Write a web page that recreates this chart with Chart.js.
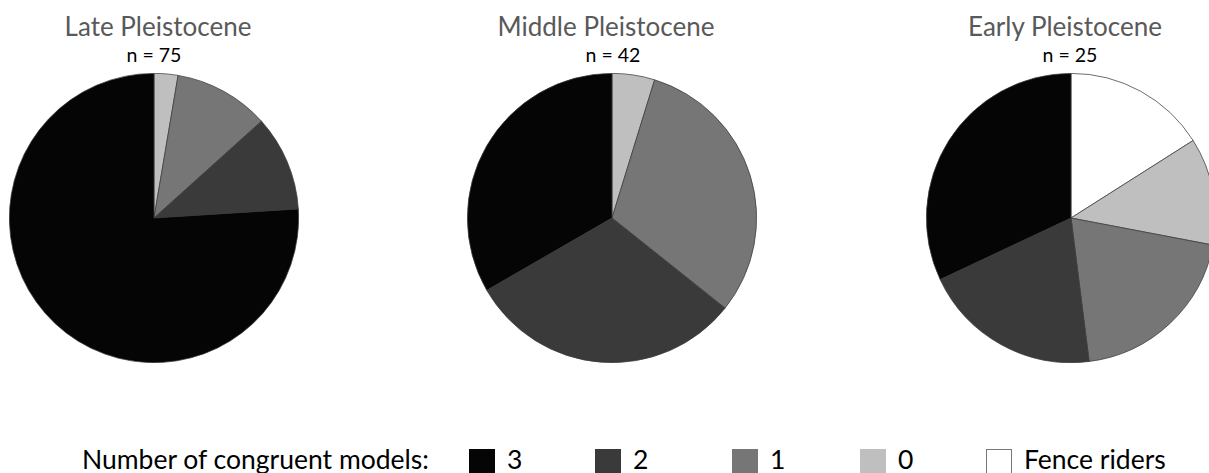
<!DOCTYPE html>
<html><head><meta charset="utf-8">
<script src="https://cdn.jsdelivr.net/npm/chart.js@4/dist/chart.umd.min.js"></script>
<style>
html,body{margin:0;padding:0;background:#fff;}
body{width:1209px;height:473px;overflow:hidden;position:relative;font-family:Lato,"Open Sans",sans-serif;}
.pie{position:absolute;top:73px;width:290px;height:290px;}
.title{position:absolute;top:13px;width:360px;text-align:center;font-size:26px;line-height:26px;color:#595959;white-space:nowrap;}
.count{position:absolute;top:45px;width:200px;text-align:center;font-size:19.5px;line-height:19.5px;color:#000;white-space:nowrap;}
.leg{position:absolute;top:445.5px;font-size:26.5px;line-height:26.5px;color:#000;white-space:nowrap;}
.box{position:absolute;top:449px;width:26px;height:26px;box-sizing:border-box;}
</style></head>
<body>
<script>
// ---- data ----
const periods = ['Late Pleistocene', 'Middle Pleistocene', 'Early Pleistocene'];
const sampleSizes = [75, 42, 25];
// slice order, clockwise from 12 o'clock
const sliceCategories = ['Fence riders', '0', '1', '2', '3'];
const lateValues = [0, 2, 8, 8, 57];
const middleValues = [0, 2, 13, 13, 14];
const earlyValues = [4, 3, 5, 5, 8];
const legendTitle = 'Number of congruent models:';
const legendCategories = ['3', '2', '1', '0', 'Fence riders'];

// ---- styling ----
const catColors = {'3':'#050505','2':'#3a3a3a','1':'#767676','0':'#bfbfbf','Fence riders':'#ffffff'};
const pieCentersX = [154, 612, 1071];
const titleCentersX = [158, 606, 1065];
const countCentersX = [154, 613, 1070];
const radius = 145;
const allValues = [lateValues, middleValues, earlyValues];

periods.forEach((p, i) => {
  const t = document.createElement('div');
  t.className = 'title'; t.textContent = p;
  t.style.left = (titleCentersX[i] - 180) + 'px';
  document.body.appendChild(t);
  const c = document.createElement('div');
  c.className = 'count'; c.textContent = 'n = ' + sampleSizes[i];
  c.style.left = (countCentersX[i] - 100) + 'px';
  document.body.appendChild(c);

  const wrap = document.createElement('div');
  wrap.className = 'pie';
  wrap.style.left = (pieCentersX[i] - radius) + 'px';
  const cv = document.createElement('canvas');
  cv.width = 2 * radius; cv.height = 2 * radius;
  wrap.appendChild(cv);
  document.body.appendChild(wrap);

  const labels = [], data = [], colors = [];
  allValues[i].forEach((v, k) => {
    if (v > 0) { labels.push(sliceCategories[k]); data.push(v); colors.push(catColors[sliceCategories[k]]); }
  });
  new Chart(cv, {
    type: 'pie',
    data: { labels, datasets: [{ data, backgroundColor: colors, borderColor: '#3c3c3c', borderWidth: 0.75 }] },
    options: {
      responsive: false, animation: false,
      layout: { padding: 0 },
      plugins: { legend: { display: false }, tooltip: { enabled: false }, title: { display: false } }
    }
  });
});

// legend
const legTitle = document.createElement('div');
legTitle.className = 'leg'; legTitle.textContent = legendTitle;
legTitle.style.left = '82px';
document.body.appendChild(legTitle);
const boxX = [469, 595, 732, 860, 986];
legendCategories.forEach((cat, k) => {
  const b = document.createElement('div');
  b.className = 'box';
  b.style.left = boxX[k] + 'px';
  b.style.background = catColors[cat];
  if (cat === 'Fence riders') b.style.border = '1px solid #777';
  document.body.appendChild(b);
  const l = document.createElement('div');
  l.className = 'leg'; l.textContent = cat;
  l.style.left = (boxX[k] + 38) + 'px';
  document.body.appendChild(l);
});
</script>
</body></html>
